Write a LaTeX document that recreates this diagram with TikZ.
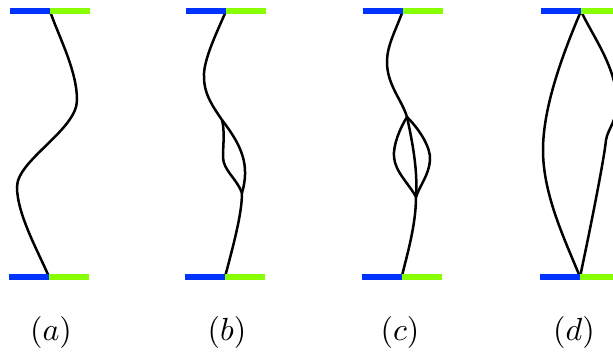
\documentclass[tikz,border=0pt]{standalone}
\definecolor{barblue}{RGB}{0,51,255}
\definecolor{bargreen}{RGB}{136,255,0}
\begin{document}
\begin{tikzpicture}[x=1pt,y=-1pt,
  curve/.style={line width=2.5pt,black},
  bluebar/.style={line width=5.5pt,barblue},
  greenbar/.style={line width=5.5pt,bargreen},
  lab/.style={anchor=base,inner sep=0pt,scale=3.2,font=\normalsize}]
\clip (0,0) rectangle (613,353);
% junctions
\coordinate (Ta) at (50,11);    \coordinate (Ba) at (49,277);
\coordinate (Tb) at (226,11);   \coordinate (Bb) at (225,277);
\coordinate (Tc) at (402.7,11); \coordinate (Bc) at (401.7,277);
\coordinate (Td) at (581,11);   \coordinate (Bd) at (580,277);
% inner points
\coordinate (a1) at (77,100);  \coordinate (a2) at (17,187);
\coordinate (b1) at (204,77);  \coordinate (Sb) at (222,120);
\coordinate (b2) at (223,157); \coordinate (Mb) at (242,193);
\coordinate (c1) at (387,62);  \coordinate (Sc) at (407,117);
\coordinate (c2) at (394,157); \coordinate (c3) at (430,160);
\coordinate (Mc) at (416,197);
\coordinate (d1) at (543,150); \coordinate (d2) at (617,100);
\coordinate (d3) at (606,140);
% (a)
\draw[curve] (Ta) .. controls (58,35) and (77,70) .. (a1)
  .. controls (77,130) and (17,160) .. (a2)
  .. controls (17,215) and (40,255) .. (Ba);
% (b)
\draw[curve] (Tb) .. controls (218,30) and (203,60) .. (b1)
  .. controls (204,95) and (214,108) .. (Sb)
  .. controls (242,146) and (250,165) .. (Mb)
  .. controls (242,215) and (232,250) .. (Bb);
\draw[curve] (Sb) .. controls (225,132) and (223,145) .. (b2)
  .. controls (223,170) and (237,179) .. (Mb);
% (c)
\draw[curve] (Tc) .. controls (396,30) and (387,45) .. (c1)
  .. controls (387,85) and (402,100) .. (Sc)
  .. controls (412,140) and (418,170) .. (Mc)
  .. controls (416,225) and (407,255) .. (Bc);
\draw[curve] (Sc) .. controls (400,128) and (393,145) .. (c2)
  .. controls (395,172) and (410,185) .. (Mc);
\draw[curve] (Sc) .. controls (420,130) and (431,148) .. (c3)
  .. controls (429,175) and (420,185) .. (Mc);
% (d)
\draw[curve] (Td) .. controls (560,60) and (543,110) .. (d1)
  .. controls (543,195) and (565,240) .. (Bd);
\draw[curve] (Td) .. controls (592,35) and (615,65) .. (d2)
  .. controls (618,120) and (608,128) .. (d3)
  .. controls (604,160) and (590,230) .. (Bd);
% bars
\foreach \j in {Ta,Ba,Tb,Bb,Tc,Bc,Td,Bd}{
  \draw[bluebar] ([xshift=-40pt]\j) -- (\j);
  \draw[greenbar] (\j) -- ([xshift=40pt]\j);
}
% labels
\node[lab] (la) at (51,340.5) {$(a)$};
\node[lab] (lb) at (227,340.5) {$(b)$};
\node[lab] (lc) at (400,340.5) {$(c)$};
\node[lab] (ld) at (574,340.5) {$(d)$};
\end{tikzpicture}
\end{document}
